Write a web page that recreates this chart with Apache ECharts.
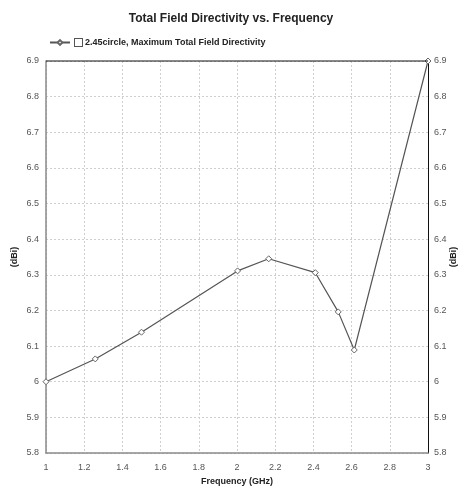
<!DOCTYPE html>
<html>
<head>
<meta charset="utf-8">
<script src="https://cdn.jsdelivr.net/npm/echarts@6/dist/echarts.min.js"></script>
<style>
  html, body { margin: 0; padding: 0; background: #fff; }
  #chart { width: 462px; height: 488px; }
</style>
</head>
<body>
<div id="chart"></div>
<script>
// Frequency sweep (GHz) and maximum total field directivity (dBi)
const frequencies = [1.0, 1.258, 1.5, 2.003, 2.166, 2.41, 2.53, 2.614, 3.0];
const directivity = [6.0, 6.064, 6.139, 6.311, 6.345, 6.306, 6.196, 6.089, 6.9];
const seriesName = '2.45circle, Maximum Total Field Directivity';
const xTicks = { min: 1, max: 3, step: 0.2 };
const yTicks = { min: 5.8, max: 6.9, step: 0.1 };

const points = frequencies.map((f, i) => [f, directivity[i]]);

const fmt = v => String(+v.toFixed(1));
const font = 'Arial, "Liberation Sans", sans-serif';

const gridLine = { show: true, lineStyle: { color: '#cfcfcf', type: [2, 2], width: 1 } };

const yAxisBase = {
  type: 'value',
  min: yTicks.min,
  max: yTicks.max,
  interval: yTicks.step,
  name: '(dBi)',
  nameLocation: 'middle',
  nameRotate: 90,
  nameMoveOverlap: false,
  nameTextStyle: { fontFamily: font, fontSize: 9, fontWeight: 'bold', color: '#222' },
  axisTick: { show: false },
  axisLabel: { fontFamily: font, fontSize: 9, color: '#555', formatter: fmt, margin: 7 }
};

const chart = echarts.init(document.getElementById('chart'), null, { renderer: 'canvas' });
chart.setOption({
  animation: false,
  backgroundColor: '#fff',
  title: {
    text: 'Total Field Directivity vs. Frequency',
    left: 'center',
    top: 8,
    textStyle: { fontFamily: font, fontSize: 12, fontWeight: 'bold', color: '#222' }
  },
  legend: {
    left: 44,
    top: 33,
    itemWidth: 20,
    itemHeight: 6,
    itemGap: 1,
    textStyle: {
      fontFamily: font, fontSize: 9, fontWeight: 'bold', color: '#222',
      rich: {
        box: { width: 7, height: 7, borderColor: '#555', borderWidth: 1, backgroundColor: '#fff' },
        t: { fontFamily: font, fontSize: 9, fontWeight: 'bold', color: '#222', padding: [0, 0, 0, 3] }
      }
    },
    formatter: name => '{box|}{t|' + name + '}',
    data: [{ name: seriesName }]
  },
  grid: { left: 46, right: 34, top: 61, bottom: 35, containLabel: false, outerBoundsMode: 'none' },
  xAxis: {
    type: 'value',
    min: xTicks.min,
    max: xTicks.max,
    interval: xTicks.step,
    name: 'Frequency (GHz)',
    nameLocation: 'middle',
    nameGap: 24,
    nameMoveOverlap: false,
    nameTextStyle: { fontFamily: font, fontSize: 9, fontWeight: 'bold', color: '#222' },
    axisLine: { lineStyle: { color: '#8a8a8a', width: 1.5 } },
    axisTick: { show: false },
    axisLabel: { fontFamily: font, fontSize: 9, color: '#555', formatter: fmt, margin: 10 },
    splitLine: gridLine
  },
  yAxis: [
    Object.assign({}, yAxisBase, {
      position: 'left',
      nameGap: 27,
      axisLine: { show: true, lineStyle: { color: '#8a8a8a', width: 1.5 } },
      splitLine: gridLine
    }),
    Object.assign({}, yAxisBase, {
      position: 'right',
      nameGap: 21,
      axisLine: { show: true, lineStyle: { color: '#111', width: 1 } },
      axisLabel: Object.assign({}, yAxisBase.axisLabel, { margin: 6 }),
      splitLine: { show: false }
    })
  ],
  graphic: [
    // top border of the plot frame
    {
      type: 'line',
      shape: { x1: 46, y1: 61, x2: 428, y2: 61 },
      style: { stroke: '#111', lineWidth: 1 },
      z: 5
    }
  ],
  series: [{
    name: seriesName,
    type: 'line',
    yAxisIndex: 0,
    data: points,
    symbol: 'diamond',
    symbolSize: 6,
    showAllSymbol: true,
    itemStyle: { color: '#fff', borderColor: '#666', borderWidth: 1 },
    lineStyle: { color: '#555', width: 1.2 },
    emphasis: { disabled: true }
  }]
});
</script>
</body>
</html>
